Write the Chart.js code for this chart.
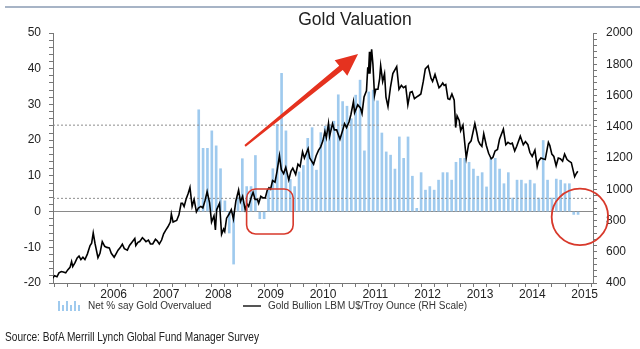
<!DOCTYPE html>
<html><head><meta charset="utf-8">
<script src="https://cdn.jsdelivr.net/npm/chart.js@4.4.1/dist/chart.umd.min.js"></script>
<style>
html,body{margin:0;padding:0;background:#fff;}
#wrap{position:relative;width:640px;height:349px;overflow:hidden;font-family:'Liberation Sans',Arial,sans-serif;color:#222;}
#c{position:absolute;left:0;top:0;}
#topline{position:absolute;left:5px;right:0;top:6px;height:2px;background:#a7b4c6;}
#title{position:absolute;left:255px;width:200px;top:9px;text-align:center;font-size:17.5px;line-height:20px;color:#222;white-space:nowrap;}
.lg{position:absolute;font-size:10px;line-height:12px;top:300px;color:#333;white-space:nowrap;}
#lgbars{position:absolute;left:57px;top:300px;width:24px;height:11px;}
#lgbars span{position:absolute;bottom:0;width:2px;background:#9fcaee;}
#lgline{position:absolute;left:243px;top:305px;width:18px;height:2px;background:#555;}
#source{position:absolute;left:5px;top:329px;font-family:'Liberation Sans Narrow','Liberation Sans',Arial,sans-serif;font-size:13px;line-height:16px;color:#222;white-space:nowrap;transform-origin:0 0;}
</style></head>
<body>
<div id="wrap">
<canvas id="c" width="640" height="349"></canvas>
<div id="topline"></div>
<div id="title">Gold Valuation</div>
<div id="lgbars"></div>
<div class="lg" id="lg1" style="left:88px">Net % say Gold Overvalued</div>
<div id="lgline"></div>
<div class="lg" id="lg2" style="left:268px">Gold Bullion LBM U$/Troy Ounce (RH Scale)</div>
<div id="source">Source: BofA Merrill Lynch Global Fund Manager Survey</div>
</div>
<script>
// ---------- data ----------
const YEAR_LABELS = [2006, 2007, 2008, 2009, 2010, 2011, 2012, 2013, 2014, 2015];

// Net % say gold overvalued, monthly, starting May 2008
const SURVEY_START = [2008, 5];
const SURVEY_VALUES = [
  28.5, 17.7, 17.7, 22.6, 18.4, 12, 3, -6,
  -14.7, 4, 14.8, 7, 7, 15.7, -2, -2, 6, 12, 24.4, 38.7,
  22.6, 9, 7, 11.1, 12.9, 20.5, 23.5, 11.6, 22.1, 23.9, 24.4, 25.3,
  32.7, 30.8, 29.5, 26, 32.6, 36.8, 17, 33.5, 34, 31, 22, 16.7,
  15.8, 11.9, 20.9, 14.9, 20.9, 9.9, 0.9, 10.9, 6, 7, 6, 8.8,
  10.9, 10.9, 8.8, 13.8, 14.9, 14.9, 13.8, 11.9, 9.9, 10.9, 6.9, 14.9,
  14.9, 11.9, 7.8, 10.9, 3.8, 8.8, 8.8, 7.8, 8.8, 7.8, 3.8, 19.9,
  8.8, 3.8, 9.1, 8.8, 7.8, 7.8, -0.8, -0.8
];

// survey average +/- one standard deviation (dotted lines, LH scale)
const SURVEY_BANDS = [24.2, 3.7];

// Gold bullion US$/troy ounce (RH scale)
const GOLD_SERIES = [
['2005-07-15',424],['2005-08-01',430],['2005-08-15',446],['2005-09-01',440],['2005-09-15',465],['2005-10-01',473],['2005-10-15',470],['2005-11-01',465],['2005-11-15',484],['2005-12-01',500],['2005-12-12',537],['2005-12-20',505],
['2006-01-05',530],['2006-01-20',560],['2006-02-02',572],['2006-02-15',550],['2006-03-01',565],['2006-03-15',550],['2006-04-01',585],['2006-04-20',640],['2006-05-01',655],['2006-05-12',720],['2006-05-25',650],['2006-06-14',562],['2006-06-28',590],['2006-07-14',665],['2006-07-31',635],['2006-08-15',628],['2006-09-01',625],['2006-09-15',590],['2006-10-05',565],['2006-10-20',590],['2006-11-01',610],['2006-11-15',625],['2006-12-01',648],['2006-12-15',620],
['2007-01-05',610],['2007-01-20',640],['2007-02-01',655],['2007-02-26',685],['2007-03-05',640],['2007-03-20',660],['2007-04-01',665],['2007-04-20',690],['2007-05-01',680],['2007-05-15',665],['2007-06-01',675],['2007-06-15',650],['2007-07-01',650],['2007-07-20',680],['2007-08-01',670],['2007-08-16',650],['2007-09-01',675],['2007-09-15',715],['2007-10-01',740],['2007-10-15',760],['2007-11-01',790],['2007-11-08',841],['2007-11-20',790],['2007-12-01',795],['2007-12-15',800],['2007-12-31',836],
['2008-01-15',910],['2008-01-25',910],['2008-02-05',890],['2008-02-20',940],['2008-03-05',975],['2008-03-17',1011],['2008-04-01',890],['2008-04-15',935],['2008-05-01',855],['2008-05-15',880],['2008-06-01',890],['2008-06-15',880],['2008-07-01',930],['2008-07-15',985],['2008-08-01',915],['2008-08-15',790],['2008-09-01',830],['2008-09-11',740],['2008-09-20',870],['2008-10-10',910],['2008-10-24',712],['2008-11-07',745],['2008-11-15',730],['2008-11-28',815],['2008-12-15',840],['2008-12-31',870],
['2009-01-15',810],['2009-02-01',925],['2009-02-20',995],['2009-03-05',920],['2009-03-20',955],['2009-04-07',870],['2009-04-20',905],['2009-05-01',890],['2009-05-20',950],['2009-06-01',980],['2009-06-15',935],['2009-07-01',935],['2009-07-10',910],['2009-07-25',955],['2009-08-10',945],['2009-08-25',945],['2009-09-08',995],['2009-09-20',1010],['2009-10-01',1000],['2009-10-15',1055],['2009-11-01',1045],['2009-11-15',1115],['2009-12-02',1215],['2009-12-15',1125],['2009-12-31',1100],
['2010-01-15',1140],['2010-02-05',1060],['2010-02-20',1115],['2010-03-05',1135],['2010-03-25',1095],['2010-04-10',1160],['2010-04-25',1145],['2010-05-12',1240],['2010-05-25',1200],['2010-06-20',1260],['2010-07-01',1200],['2010-07-28',1160],['2010-08-15',1215],['2010-09-01',1250],['2010-09-15',1270],['2010-10-01',1310],['2010-10-15',1370],['2010-10-25',1330],['2010-11-09',1421],['2010-11-17',1340],['2010-12-07',1420],['2010-12-20',1380],
['2011-01-05',1380],['2011-01-28',1320],['2011-02-15',1375],['2011-03-01',1420],['2011-03-15',1395],['2011-04-01',1430],['2011-04-15',1480],['2011-05-02',1560],['2011-05-10',1490],['2011-06-01',1540],['2011-06-20',1520],['2011-07-01',1485],['2011-07-15',1590],['2011-08-01',1630],['2011-08-10',1780],['2011-08-15',1740],['2011-08-22',1880],['2011-08-25',1740],['2011-09-06',1895],['2011-09-15',1800],['2011-09-26',1600],['2011-10-05',1640],['2011-10-20',1640],['2011-11-01',1710],['2011-11-08',1790],['2011-11-22',1690],['2011-12-05',1740],['2011-12-15',1590],['2011-12-29',1530],
['2012-01-15',1650],['2012-02-01',1740],['2012-02-28',1785],['2012-03-15',1640],['2012-04-01',1665],['2012-04-15',1650],['2012-05-01',1660],['2012-05-16',1540],['2012-06-01',1620],['2012-06-15',1625],['2012-07-01',1580],['2012-07-15',1590],['2012-08-01',1600],['2012-08-15',1610],['2012-09-01',1690],['2012-09-15',1770],['2012-10-05',1790],['2012-10-25',1710],['2012-11-05',1690],['2012-11-22',1735],['2012-12-05',1695],['2012-12-20',1650],['2012-12-31',1660],
['2013-01-15',1680],['2013-01-25',1665],['2013-02-05',1670],['2013-02-20',1580],['2013-03-05',1575],['2013-03-20',1610],['2013-04-05',1570],['2013-04-15',1395],['2013-04-25',1470],['2013-05-10',1440],['2013-05-20',1375],['2013-06-05',1410],['2013-06-28',1200],['2013-07-15',1290],['2013-08-01',1310],['2013-08-27',1420],['2013-09-10',1360],['2013-09-20',1310],['2013-10-01',1290],['2013-10-15',1275],['2013-10-28',1355],['2013-11-15',1280],['2013-12-01',1230],['2013-12-19',1195],['2013-12-31',1205],
['2014-01-15',1245],['2014-02-01',1255],['2014-02-15',1320],['2014-03-14',1385],['2014-03-31',1285],['2014-04-15',1300],['2014-05-01',1290],['2014-05-15',1295],['2014-06-01',1245],['2014-06-15',1275],['2014-07-10',1340],['2014-07-31',1285],['2014-08-15',1305],['2014-09-01',1285],['2014-09-15',1235],['2014-10-01',1210],['2014-10-20',1250],['2014-11-05',1145],['2014-11-15',1180],['2014-12-01',1200],['2014-12-15',1195],['2014-12-31',1190],
['2015-01-22',1300],['2015-02-01',1280],['2015-02-15',1225],['2015-03-01',1210],['2015-03-17',1150],['2015-04-01',1200],['2015-04-15',1195],['2015-05-01',1180],['2015-05-15',1225],['2015-06-01',1190],['2015-06-15',1180],['2015-07-01',1170],['2015-07-24',1080],['2015-08-01',1095],['2015-08-15',1115]
];

// hand-drawn highlights (in data units: x = decimal year, y = LH scale)
const ARROW = {from: [2009.26, 18.4], to: [2011.42, 44.1]};
const BOX = {x0: 2009.29, x1: 2010.18, y0: 6.3, y1: -6.3};
const RING = {x: 2015.66, y: -1.5, rx: 0.54};

// ---------- helpers ----------
function dec(s){const [y,m,d]=s.split('-').map(Number);const a=Date.UTC(y,0,1),b=Date.UTC(y+1,0,1);return y+(Date.UTC(y,m-1,d)-a)/(b-a);}
const X_MIN = 2005.59, X_MAX = 2015.91;
const FONT = "'Liberation Sans', Arial, sans-serif";

const barData = SURVEY_VALUES.map((v,i)=>({x: SURVEY_START[0] + (SURVEY_START[1]-1+i+0.5)/12, y: v}));
const goldData = GOLD_SERIES.map(p=>({x: dec(p[0]), y: p[1]}));
const bandSets = SURVEY_BANDS.map(v=>({
  type:'line', label:'band', data:[{x:X_MIN,y:v},{x:X_MAX,y:v}], yAxisID:'yL',
  borderColor:'#8d8d8d', borderWidth:1, borderDash:[2,2], pointRadius:0, order:2
}));

const highlight = {
  id:'highlight',
  afterDraw(chart){
    const ctx=chart.ctx, xs=chart.scales.x, ys=chart.scales.yL;
    const P=(x,y)=>[xs.getPixelForValue(x), ys.getPixelForValue(y)];
    ctx.save();
    const red='#e5321f';
    const [x0,y0]=P(...ARROW.from), [x1,y1]=P(...ARROW.to);
    const dx=x1-x0, dy=y1-y0, L=Math.hypot(dx,dy), ux=dx/L, uy=dy/L, nx=-uy, ny=ux;
    const hl=22, hw=10;
    const bx=x1-ux*hl, by=y1-uy*hl;
    ctx.fillStyle=red;
    ctx.beginPath();
    ctx.moveTo(x0+nx*1, y0+ny*1);
    ctx.lineTo(bx+nx*2.8, by+ny*2.8);
    ctx.lineTo(bx+nx*hw, by+ny*hw);
    ctx.lineTo(x1, y1);
    ctx.lineTo(bx-nx*hw, by-ny*hw);
    ctx.lineTo(bx-nx*2.8, by-ny*2.8);
    ctx.lineTo(x0-nx*1, y0-ny*1);
    ctx.closePath(); ctx.fill();
    const [rx0,ry0]=P(BOX.x0,BOX.y0), [rx1,ry1]=P(BOX.x1,BOX.y1);
    ctx.strokeStyle='#d8392b'; ctx.lineWidth=1.6;
    ctx.beginPath(); ctx.roundRect(rx0,ry0,rx1-rx0,ry1-ry0,9); ctx.stroke();
    const [cx,cy]=P(RING.x,RING.y); const r=xs.getPixelForValue(RING.x+RING.rx)-cx;
    ctx.lineWidth=1.8; ctx.beginPath(); ctx.arc(cx,cy,r,0,Math.PI*2); ctx.stroke();
    ctx.restore();
  }
};

const tickFont = {family: FONT, size: 12};
new Chart(document.getElementById('c'), {
  type:'bar',
  data:{datasets:[
    {type:'line', label:'Gold Bullion LBM U$/Troy Ounce (RH Scale)', data:goldData, yAxisID:'yR',
     borderColor:'#000', borderWidth:1.6, pointRadius:0, tension:0, order:0},
    ...bandSets,
    {type:'bar', label:'Net % say Gold Overvalued', data:barData, yAxisID:'yL',
     backgroundColor:'#9fcaee', barThickness:2, order:3}
  ]},
  options:{
    responsive:false, animation:false, devicePixelRatio:1,
    layout:{padding:{top:33,left:0,right:0,bottom:0}},
    plugins:{legend:{display:false}, tooltip:{enabled:false}, title:{display:false}},
    scales:{
      x:{type:'linear', min:X_MIN, max:X_MAX, offset:false,
        afterBuildTicks(s){const t=[];for(let y=2005;y<=2016;y++)for(let q=0;q<4;q++){const v=y+q/4;if(v>=X_MIN&&v<=X_MAX)t.push({value:v});}s.ticks=t;},
        afterFit(s){s.height=66;},
        grid:{drawOnChartArea:false, drawTicks:true, tickLength:4, color:'#777', tickColor:'#777'},
        border:{display:true, color:'#777', width:1},
        ticks:{autoSkip:false, maxRotation:0, minRotation:0, padding:0, font:tickFont, color:'#222',
          callback(v){const y=Math.floor(v); return (Math.abs(v-y-0.75)<1e-6 && YEAR_LABELS.includes(y)) ? String(y) : '';}}
      },
      yL:{type:'linear', position:'left', min:-20, max:50,
        afterBuildTicks(s){const t=[];for(let v=-20;v<=50;v+=2)t.push({value:v});s.ticks=t;},
        afterFit(s){s.width=53;},
        grid:{drawOnChartArea:true, drawTicks:true, tickLength:4, tickColor:'#777',
          color:(c)=> (c.tick && c.tick.value===0) ? '#8a8a8a' : 'rgba(0,0,0,0)'},
        border:{display:true, color:'#777', width:1},
        ticks:{autoSkip:false, padding:8, font:tickFont, color:'#222', callback:(v)=> (v%10===0) ? String(v) : ''}
      },
      yR:{type:'linear', position:'right', min:400, max:2000,
        afterBuildTicks(s){const t=[];for(let v=400;v<=2000;v+=40)t.push({value:v});s.ticks=t;},
        afterFit(s){s.width=47;},
        grid:{drawOnChartArea:false, drawTicks:true, tickLength:4, tickColor:'#777', color:'#777'},
        border:{display:true, color:'#777', width:1},
        ticks:{autoSkip:false, padding:9, font:tickFont, color:'#222', callback:(v)=> (v%200===0) ? String(v) : ''}
      }
    }
  },
  plugins:[highlight]
});

(function(){
  const box=document.getElementById('lgbars');
  const hs=[10,6,10,6,10,6];
  hs.forEach((h,i)=>{const s=document.createElement('span');s.style.left=(i*4+1)+'px';s.style.height=h+'px';box.appendChild(s);});
  const src=document.getElementById('source');
  const w=src.getBoundingClientRect().width;
  src.style.transform='scaleX('+(254/w)+')';
})();
</script>
</body></html>
